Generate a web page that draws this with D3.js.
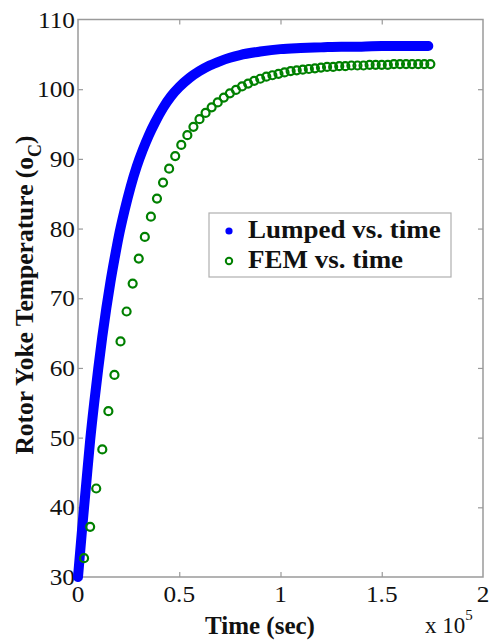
<!DOCTYPE html>
<html>
<head>
<meta charset="utf-8">
<script src="https://cdn.jsdelivr.net/npm/d3@7/dist/d3.min.js"></script>
<style>
  html, body { margin: 0; padding: 0; background: #fff; }
  svg { display: block; }
</style>
</head>
<body>
<svg id="chart" width="489" height="641"></svg>
<script>
// Time axis in units of 1e5 s
const lumpedTime = [0, 0.02, 0.04, 0.06, 0.08, 0.10, 0.12, 0.14, 0.16, 0.18, 0.20,
  0.23, 0.26, 0.29, 0.32, 0.35, 0.38, 0.42, 0.46, 0.50, 0.55, 0.60, 0.65, 0.70,
  0.75, 0.80, 0.90, 1.00, 1.10, 1.20, 1.30, 1.40, 1.50, 1.60, 1.73];
const lumpedTemp = [30.0, 36.8, 43.2, 49.6, 55.0, 59.9, 64.5, 68.6, 72.3, 75.6, 78.7,
  82.6, 86.0, 88.9, 91.3, 93.4, 95.2, 97.3, 99.0, 100.3, 101.6, 102.6, 103.4, 104.0,
  104.5, 104.9, 105.4, 105.75, 105.9, 106.0, 106.1, 106.1, 106.2, 106.2, 106.2];

const femTime = [0.03, 0.06, 0.09, 0.12, 0.15, 0.18, 0.21, 0.24, 0.27, 0.30,
  0.33, 0.36, 0.39, 0.42, 0.45, 0.48, 0.51, 0.54, 0.57, 0.60,
  0.63, 0.66, 0.69, 0.72, 0.75, 0.78, 0.81, 0.84, 0.87, 0.90,
  0.93, 0.96, 0.99, 1.02, 1.05, 1.08, 1.11, 1.14, 1.17, 1.20,
  1.23, 1.26, 1.29, 1.32, 1.35, 1.38, 1.41, 1.44, 1.47, 1.50,
  1.53, 1.56, 1.59, 1.62, 1.65, 1.68, 1.71, 1.74];
const femTemp = [32.7, 37.2, 42.7, 48.3, 53.8, 59.0, 63.8, 68.1, 72.1, 75.7,
  78.8, 81.7, 84.3, 86.6, 88.6, 90.4, 92.0, 93.4, 94.6, 95.7,
  96.6, 97.4, 98.1, 98.8, 99.4, 99.9, 100.4, 100.8, 101.2, 101.5,
  101.8, 102.0, 102.2, 102.4, 102.6, 102.7, 102.8, 102.9, 103.0, 103.1,
  103.2, 103.2, 103.3, 103.3, 103.4, 103.4, 103.4, 103.5, 103.5, 103.5,
  103.5, 103.6, 103.6, 103.6, 103.6, 103.6, 103.6, 103.6];

const xTicks = [0, 0.5, 1, 1.5, 2];
const xTickLabels = ["0", "0.5", "1", "1.5", "2"];
const yTicks = [30, 40, 50, 60, 70, 80, 90, 100, 110];

const seriesNames = ["Lumped vs. time", "FEM vs. time"];
const blue = "#0000ff", green = "#008000", axisGray = "#9a9a9a";
const serif = "'Liberation Serif', 'Times New Roman', Times, serif";
const ink = "#111";

const svg = d3.select("#chart");
const plotL = 78, plotR = 483, plotT = 19.5, plotB = 577;

const x = d3.scaleLinear().domain([0, 2]).range([plotL, plotR]);
const y = d3.scaleLinear().domain([30, 110]).range([plotB, plotT]);

// Axes box with inward ticks on all four sides
const g = svg.append("g");
g.append("rect")
  .attr("x", plotL).attr("y", plotT)
  .attr("width", plotR - plotL).attr("height", plotB - plotT)
  .attr("fill", "none").attr("stroke", axisGray).attr("stroke-width", 1.5);

const tickLen = 5;
const styleAxis = sel => {
  sel.select(".domain").remove();
  sel.selectAll(".tick line").attr("stroke", axisGray).attr("stroke-width", 1.2);
  sel.selectAll(".tick text").remove();
};
g.append("g").attr("transform", `translate(0,${plotB})`)
  .call(d3.axisTop(x).tickValues(xTicks.slice(1, -1)).tickSize(tickLen)).call(styleAxis);
g.append("g").attr("transform", `translate(0,${plotT})`)
  .call(d3.axisBottom(x).tickValues(xTicks.slice(1, -1)).tickSize(tickLen)).call(styleAxis);
g.append("g").attr("transform", `translate(${plotL},0)`)
  .call(d3.axisRight(y).tickValues(yTicks.slice(1, -1)).tickSize(tickLen)).call(styleAxis);
g.append("g").attr("transform", `translate(${plotR},0)`)
  .call(d3.axisLeft(y).tickValues(yTicks.slice(1, -1)).tickSize(tickLen)).call(styleAxis);

// Tick labels
g.selectAll(".xlab").data(xTicks).join("text")
  .attr("class", "xlab")
  .attr("transform", d => `translate(${x(d)},${plotB + 25}) scale(1.1,1)`)
  .attr("text-anchor", "middle")
  .attr("font-family", serif).attr("fill", ink)
  .style("font-size", "23px")
  .text((d, i) => xTickLabels[i]);

g.selectAll(".ylab").data(yTicks).join("text")
  .attr("class", "ylab")
  .attr("transform", d => `translate(${plotL - 3},${y(d) + 8}) scale(1.1,1)`)
  .attr("text-anchor", "end")
  .attr("font-family", serif).attr("fill", ink)
  .style("font-size", "23px")
  .text(d => d);

// Exponent note
const expo = g.append("text")
  .attr("x", 425).attr("y", 633)
  .attr("font-family", serif).attr("fill", ink)
  .style("font-size", "23px");
expo.append("tspan").text("x 10");
expo.append("tspan").attr("dy", -13).style("font-size", "15px").text("5");

// Axis titles
g.append("text")
  .attr("x", 260).attr("y", 634)
  .attr("text-anchor", "middle")
  .attr("font-family", serif).attr("fill", ink)
  .style("font-size", "25px").style("font-weight", "bold")
  .text("Time (sec)");

const yt = g.append("text")
  .attr("transform", `translate(33,295) rotate(-90)`)
  .attr("text-anchor", "middle")
  .attr("font-family", serif).attr("fill", ink)
  .style("font-size", "25.5px").style("font-weight", "bold");
yt.append("tspan").text("Rotor Yoke Temperature (o");
yt.append("tspan").attr("dy", 8).style("font-size", "18px").text("C");
yt.append("tspan").attr("dy", -8).text(")");

// Lumped model: dense filled markers forming a thick band
const lumped = lumpedTime.map((t, i) => ({ t, v: lumpedTemp[i] }));
const line = d3.line().x(d => x(d.t)).y(d => y(d.v)).curve(d3.curveMonotoneX);
g.append("path")
  .datum(lumped)
  .attr("d", line)
  .attr("fill", "none")
  .attr("stroke", blue)
  .attr("stroke-width", 10)
  .attr("stroke-linecap", "round")
  .attr("stroke-linejoin", "round");

// FEM results: open circles
const fem = femTime.map((t, i) => ({ t, v: femTemp[i] }));
g.selectAll(".fem").data(fem).join("circle")
  .attr("class", "fem")
  .attr("cx", d => x(d.t)).attr("cy", d => y(d.v))
  .attr("r", 4)
  .attr("fill", "none")
  .attr("stroke", green)
  .attr("stroke-width", 2.2);

// Legend
const lg = g.append("g");
lg.append("rect")
  .attr("x", 209).attr("y", 213).attr("width", 242).attr("height", 64)
  .attr("fill", "#fff").attr("stroke", "#b0b0b0").attr("stroke-width", 1.2);
lg.append("circle").attr("cx", 229).attr("cy", 231).attr("r", 3.6).attr("fill", blue);
lg.append("circle").attr("cx", 229).attr("cy", 261).attr("r", 3.2)
  .attr("fill", "none").attr("stroke", green).attr("stroke-width", 2);
lg.selectAll(".legtext").data(seriesNames).join("text")
  .attr("class", "legtext")
  .attr("transform", (d, i) => `translate(248,${238 + i * 30}) scale(1.08,1)`)
  .attr("font-family", serif).attr("fill", ink)
  .style("font-size", "25px").style("font-weight", "bold")
  .text(d => d);
</script>
</body>
</html>
